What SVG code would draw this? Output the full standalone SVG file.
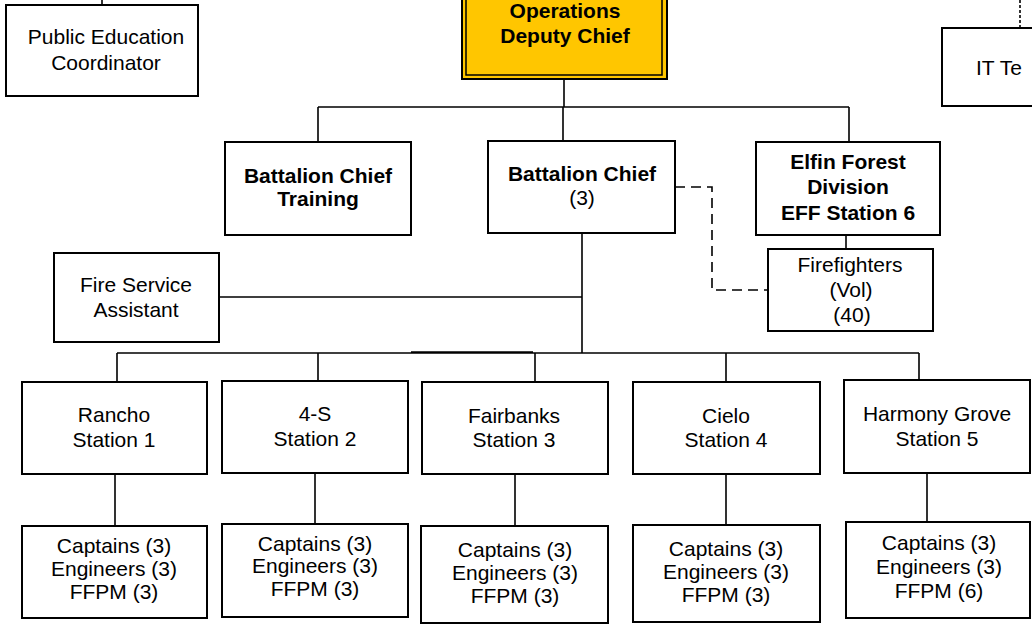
<svg xmlns="http://www.w3.org/2000/svg" width="1032" height="624" viewBox="0 0 1032 624">
<style>
.box{fill:#fff;stroke:#000;stroke-width:2}
.ln{fill:none;stroke:#000;stroke-width:1.6}
.dash{fill:none;stroke:#000;stroke-width:1.6;stroke-dasharray:10,6}
.dot{fill:none;stroke:#000;stroke-width:1.6;stroke-dasharray:3,2}
text{font-family:"Liberation Sans",Arial,sans-serif;font-size:21px;fill:#000;text-anchor:middle}
.b{font-weight:bold}
</style>
<rect width="1032" height="624" fill="#fff"/>
<g id="connectors">
<path class="ln" d="M102 0V5"/>
<path class="dot" d="M1020 0V28"/>
<path class="ln" d="M564 79V107M318 107H849M318 107V142M563 107V141M849 107V142"/>
<path class="ln" d="M846 235V249"/>
<path class="dash" d="M675 187H712V290H768"/>
<path class="ln" d="M582 233V353M219 297H582"/>
<path class="ln" d="M117 353H919M411 352H533"/>
<path class="ln" d="M117 353V382M318 353V381M535 353V382M726 353V382M919 353V381"/>
<path class="ln" d="M115 474V526M315 473V524M515 474V526M726 474V525M927 473V522"/>
</g>
<g id="public-education">
<rect class="box" x="6" y="5" width="192" height="91"/>
<text x="106" y="44">Public Education</text>
<text x="106" y="70">Coordinator</text>
</g>
<g id="operations">
<rect x="462" y="-20" width="205" height="99" fill="#FFC600" stroke="#000" stroke-width="2"/>
<rect x="466" y="-20" width="196" height="95" fill="none" stroke="#000" stroke-width="1.5"/>
<text class="b" x="565" y="18">Operations</text>
<text class="b" x="565" y="43">Deputy Chief</text>
</g>
<g id="it">
<rect class="box" x="942" y="28" width="100" height="78"/>
<text x="976" y="75" style="text-anchor:start">IT Te</text>
</g>
<g id="bc-training">
<rect class="box" x="225" y="142" width="186" height="93"/>
<text class="b" x="318" y="183">Battalion Chief</text>
<text class="b" x="318" y="206">Training</text>
</g>
<g id="bc">
<rect class="box" x="488" y="141" width="187" height="92"/>
<text class="b" x="582" y="181">Battalion Chief</text>
<text x="582" y="205">(3)</text>
</g>
<g id="elfin">
<rect class="box" x="756" y="142" width="184" height="93"/>
<text class="b" x="848" y="169">Elfin Forest</text>
<text class="b" x="848" y="194">Division</text>
<text class="b" x="848" y="220">EFF Station 6</text>
</g>
<g id="firefighters">
<rect class="box" x="768" y="249" width="165" height="82"/>
<text x="850" y="272">Firefighters</text>
<text x="851" y="297">(Vol)</text>
<text x="852" y="322">(40)</text>
</g>
<g id="fire-service">
<rect class="box" x="54" y="253" width="165" height="89"/>
<text x="136" y="292">Fire Service</text>
<text x="136" y="317">Assistant</text>
</g>
<g id="station1">
<rect class="box" x="22" y="382" width="185" height="92"/>
<text x="114" y="422">Rancho</text>
<text x="114" y="447">Station 1</text>
</g>
<g id="station2">
<rect class="box" x="222" y="381" width="186" height="92"/>
<text x="315" y="421">4-S</text>
<text x="315" y="446">Station 2</text>
</g>
<g id="station3">
<rect class="box" x="422" y="382" width="186" height="92"/>
<text x="514" y="423">Fairbanks</text>
<text x="514" y="447">Station 3</text>
</g>
<g id="station4">
<rect class="box" x="633" y="382" width="187" height="92"/>
<text x="726" y="423">Cielo</text>
<text x="726" y="447">Station 4</text>
</g>
<g id="station5">
<rect class="box" x="844" y="380" width="186" height="93"/>
<text x="937" y="421">Harmony Grove</text>
<text x="937" y="446">Station 5</text>
</g>
<g id="crew1">
<rect class="box" x="22" y="526" width="185" height="92"/>
<text x="114" y="553">Captains (3)</text>
<text x="114" y="576">Engineers (3)</text>
<text x="114" y="599">FFPM (3)</text>
</g>
<g id="crew2">
<rect class="box" x="222" y="524" width="186" height="93"/>
<text x="315" y="551">Captains (3)</text>
<text x="315" y="573">Engineers (3)</text>
<text x="315" y="596">FFPM (3)</text>
</g>
<g id="crew3">
<rect class="box" x="421" y="526" width="187" height="97"/>
<text x="515" y="557">Captains (3)</text>
<text x="515" y="580">Engineers (3)</text>
<text x="515" y="603">FFPM (3)</text>
</g>
<g id="crew4">
<rect class="box" x="633" y="525" width="187" height="97"/>
<text x="726" y="556">Captains (3)</text>
<text x="726" y="579">Engineers (3)</text>
<text x="726" y="602">FFPM (3)</text>
</g>
<g id="crew5">
<rect class="box" x="846" y="522" width="184" height="96"/>
<text x="939" y="550">Captains (3)</text>
<text x="939" y="574">Engineers (3)</text>
<text x="939" y="598">FFPM (6)</text>
</g>
</svg>
